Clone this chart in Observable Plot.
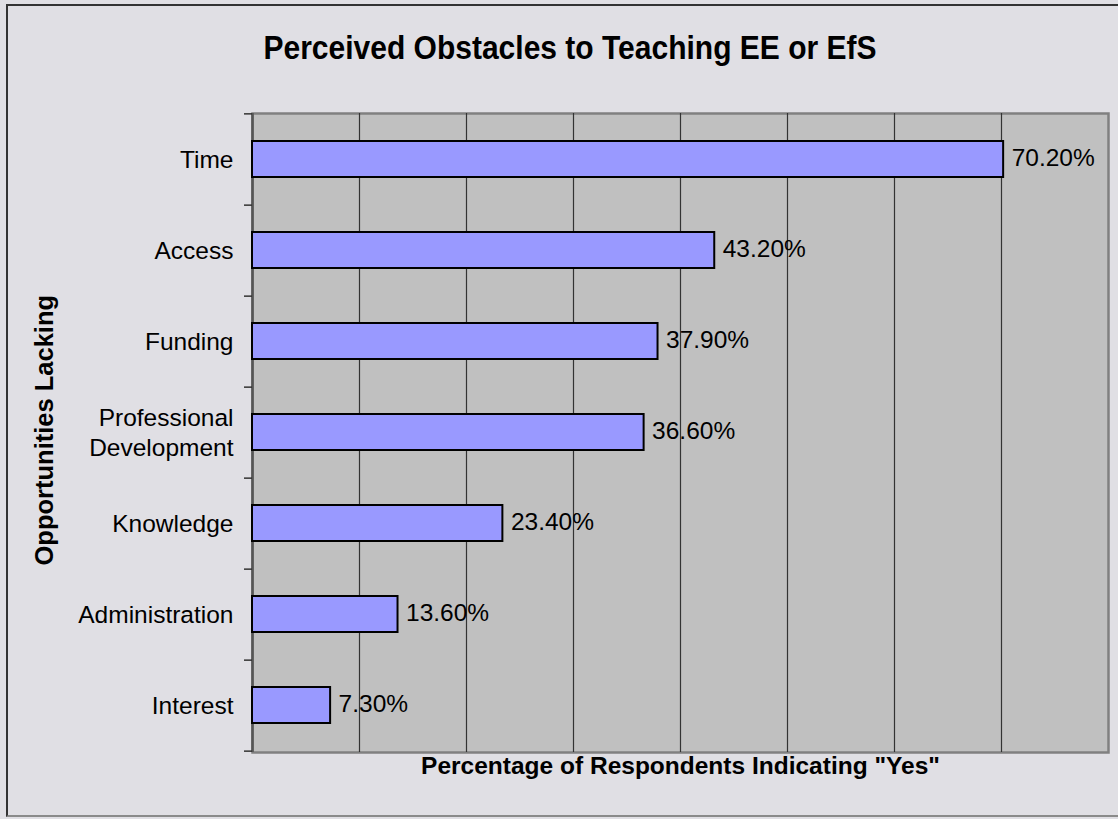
<!DOCTYPE html>
<html>
<head>
<meta charset="utf-8">
<script src="https://cdn.jsdelivr.net/npm/d3@7"></script>
<script src="https://cdn.jsdelivr.net/npm/@observablehq/plot@0.6"></script>
<style>
  html, body { margin: 0; padding: 0; background: #e0dfe4; overflow: hidden; }
  body { width: 1118px; height: 819px; position: relative; font-family: "Liberation Sans", Arial, sans-serif; }
  #frame { position: absolute; left: 6px; top: 4px; width: 1130px; height: 813px; box-sizing: border-box;
           border-left: 2px solid #333; border-top: 2px solid #333; border-bottom: 2px solid #8a8a8a; }
  #title { position: absolute; left: 0; top: 0; width: 1140px; text-align: center; font-weight: bold;
           font-size: 30px; line-height: 30px; padding-top: 33px; color: #000;
           transform: scaleY(1.1); transform-origin: 50% 48px; }
  #chart { position: absolute; left: 0; top: 0; }
</style>
</head>
<body>
<div id="frame"></div>
<div id="chart"></div>
<div id="title">Perceived Obstacles to Teaching EE or EfS</div>
<script>
const categories = ["Time", "Access", "Funding", "Professional\nDevelopment", "Knowledge", "Administration", "Interest"];
const values = [70.2, 43.2, 37.9, 36.6, 23.4, 13.6, 7.3];
const gridTicks = [10, 20, 30, 40, 50, 60, 70];
const xTitle = "Percentage of Respondents Indicating \"Yes\"";
const yTitle = "Opportunities Lacking";

const data = categories.map((c, i) => ({category: c, value: values[i]}));

const W = 1118, H = 819, mT = 113, mB = 67, mL = 252, mR = 10;
const step = (H - mT - mB) / categories.length;
const font = "Liberation Sans, Arial, sans-serif";

const chart = Plot.plot({
  width: W,
  height: H,
  marginTop: mT,
  marginBottom: mB,
  marginLeft: mL,
  marginRight: mR,
  style: {background: "transparent", fontFamily: font, overflow: "visible", color: "#000"},
  x: {domain: [0, 80], axis: null},
  y: {domain: categories, paddingInner: 0.6, paddingOuter: 0.3, axis: null},
  marks: [
    Plot.frame({fill: "#c0c0c0", stroke: "#808080", strokeWidth: 2.5}),
    Plot.gridX(gridTicks, {stroke: "#333", strokeOpacity: 1, strokeWidth: 1.2}),
    Plot.ruleX([0], {stroke: "#555", strokeWidth: 2.5}),
    Plot.barX(data, {y: "category", x: "value", fill: "#9999ff", stroke: "#000", strokeWidth: 2}),
    Plot.text(data, {y: "category", x: "value", text: d => d.value.toFixed(2) + "%",
      textAnchor: "start", dx: 8, dy: -1, fontSize: 24.5, fill: "#000"}),
    Plot.axisY({label: null, tickSize: 0, tickPadding: 19, dy: -1, fontSize: 24.5, lineHeight: 1.22, fill: "#000"}),
    Plot.axisY({label: null, tickSize: 8, tickFormat: () => "", dy: step / 2, stroke: "#333", strokeWidth: 1.5}),
    Plot.axisY({label: null, ticks: [categories[0]], tickSize: 8, tickFormat: () => "", dy: -step / 2, stroke: "#333", strokeWidth: 1.5}),
    Plot.text([xTitle], {frameAnchor: "bottom", dy: 21.5, fontSize: 24.5, fontWeight: "bold", fill: "#000"}),
    Plot.text([yTitle], {frameAnchor: "bottom-left", dx: 52 - mL, dy: 565 - (H - mB), rotate: -90,
      textAnchor: "start", fontSize: 25.5, fontWeight: "bold", fill: "#000"})
  ]
});
document.getElementById("chart").appendChild(chart);
</script>
</body>
</html>
